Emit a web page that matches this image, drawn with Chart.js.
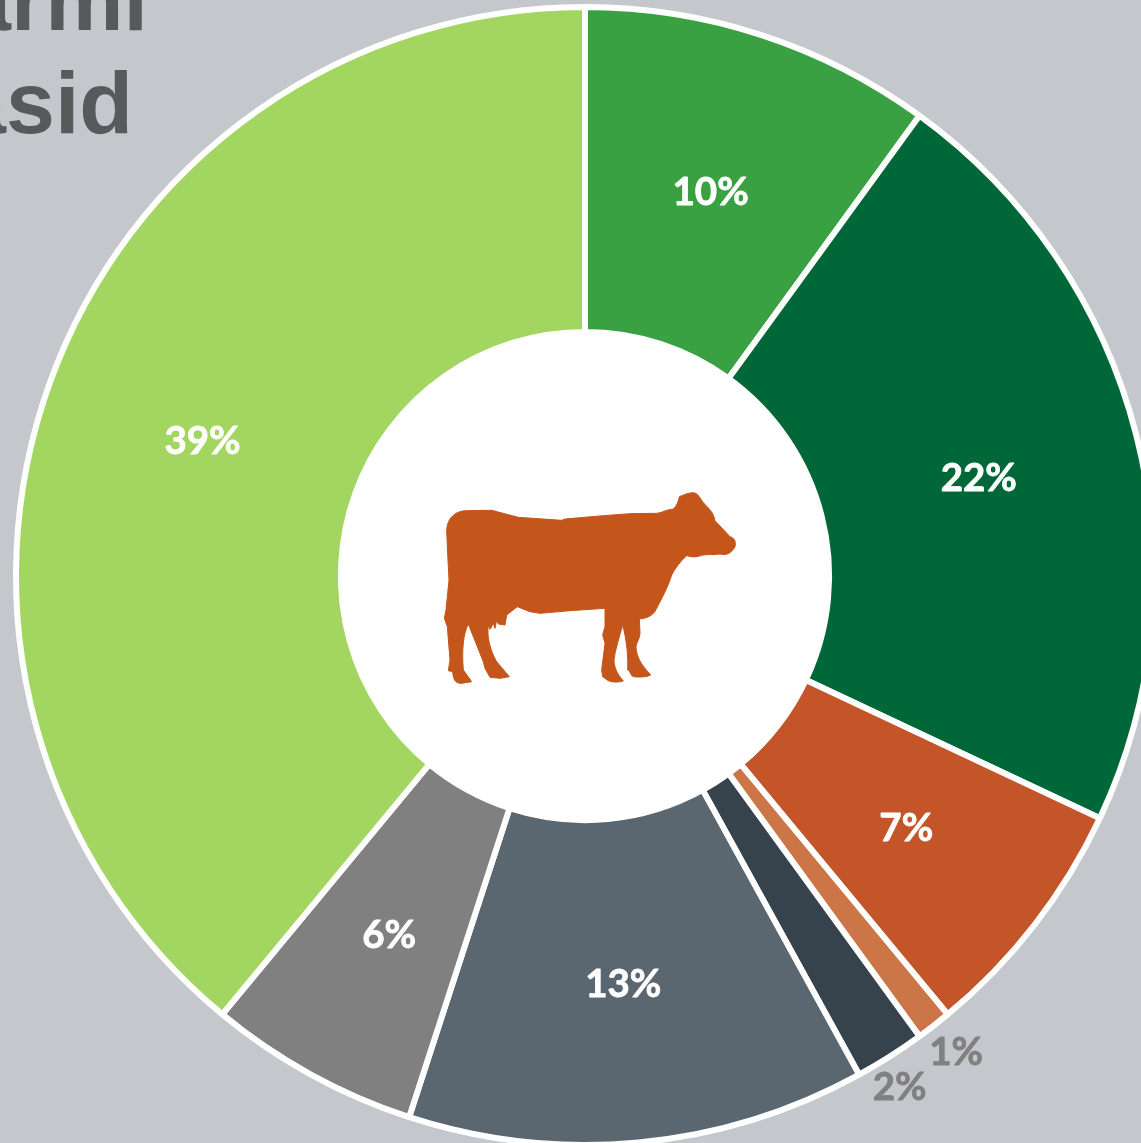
<!DOCTYPE html>
<html>
<head>
<meta charset="utf-8">
<script src="https://cdn.jsdelivr.net/npm/chart.js@4"></script>
<style>
html,body{margin:0;padding:0;width:1141px;height:1143px;overflow:hidden;background:#c4c7cc}
.t{position:absolute;font:bold 88px "Liberation Sans",Arial,sans-serif;color:#58595b;white-space:nowrap;line-height:100px}
#wrap{position:absolute;left:0;top:0;width:1170px;height:1152px}
</style>
</head>
<body>
<div class="t" style="left:-38px;top:-50px">armi</div>
<div class="t" style="left:-43px;top:53px">asid</div>
<div id="wrap"><canvas id="c" width="1170" height="1152" style="display:block"></canvas></div>
<script>
const categories = ["A", "B", "C", "D", "E", "F", "G", "H"];
const values = [10, 22, 7, 1, 2, 13, 6, 39];
const colors = ["#3aa142", "#006838", "#c45528", "#cc7546", "#36434c", "#5a6670", "#808080", "#a3d660"];
const labelColors = ["#fff", "#fff", "#fff", "#808080", "#808080", "#fff", "#fff", "#fff"];
const labelRadiusShift = [0, 0, 0, 195, 191, 0, 0, 0];
const labelAngleShift = [0, 0, 0, -0.0053, 0.011, 0, 0, 0];
const cowPath = "M50,150 C52,110 80,92 110,92 L185,91 L265,112 L395,121 L405,117 L520,107 L600,101 L680,100 C700,97 705,90 730,87 C740,78 745,65 748,50 C760,45 775,38 790,38 C805,40 810,55 820,68 C835,85 850,95 855,122 L900,170 C915,175 918,185 915,200 C905,218 890,228 870,222 C850,225 830,222 815,226 C800,232 785,232 770,227 C750,245 735,265 725,285 C715,320 695,355 680,385 C670,408 650,415 628,417 L630,460 C630,475 620,485 618,500 C620,530 630,550 662,585 C650,592 625,592 610,590 C600,585 600,570 593,570 C595,530 590,480 578,435 C570,465 555,510 552,540 C552,560 560,580 580,603 C565,608 545,607 535,602 L518,590 L515,570 L525,490 L518,465 L525,440 L525,385 L420,392 L330,400 L300,395 L262,380 L230,405 L225,435 L205,432 L200,420 L195,445 L190,430 L180,448 L175,435 C170,470 180,510 200,545 L238,590 L210,595 L180,592 L165,565 L160,545 L115,432 C100,460 95,510 100,570 L125,605 L95,610 C80,610 70,605 68,575 L55,572 L60,540 L52,440 L43,415 L48,390 L57,300 L52,200 Z";

const centerPlugin = {
  id: "centerIcon",
  afterDatasetsDraw(chart) {
    const ctx = chart.ctx;
    const arc = chart.getDatasetMeta(0).data[0];
    const p = arc.getProps(["x", "y", "innerRadius"], true);
    ctx.save();
    ctx.fillStyle = "#fff";
    ctx.beginPath();
    ctx.arc(p.x, p.y, p.innerRadius, 0, Math.PI * 2);
    ctx.fill();
    ctx.translate(p.x - 155, p.y - 96);
    ctx.scale(1 / 3, 1 / 3);
    ctx.fillStyle = "#c4561c";
    ctx.strokeStyle = "#c4561c";
    ctx.lineWidth = 3;
    ctx.lineJoin = "round";
    const path = new Path2D(cowPath);
    ctx.fill(path);
    ctx.stroke(path);
    ctx.restore();
  }
};
const labelPlugin = {
  id: "sliceLabels",
  afterDatasetsDraw(chart) {
    const ctx = chart.ctx;
    ctx.save();
    ctx.font = 'bold 38.5px Lato, "Open Sans", sans-serif';
    ctx.textAlign = "center";
    ctx.textBaseline = "middle";
    ctx.lineWidth = 0.8;
    ctx.lineJoin = "round";
    chart.getDatasetMeta(0).data.forEach((arc, i) => {
      const p = arc.getProps(["x", "y", "startAngle", "endAngle", "innerRadius", "outerRadius"], true);
      const a = (p.startAngle + p.endAngle) / 2 + labelAngleShift[i];
      const r = (p.innerRadius + p.outerRadius) / 2 + labelRadiusShift[i];
      const x = p.x + Math.cos(a) * r;
      const y = p.y + Math.sin(a) * r + 3.5;
      ctx.fillStyle = labelColors[i];
      ctx.strokeStyle = labelColors[i];
      ctx.fillText(values[i] + "%", x, y);
      ctx.strokeText(values[i] + "%", x, y);
    });
    ctx.restore();
  }
};
new Chart(document.getElementById("c"), {
  type: "doughnut",
  data: {
    labels: categories,
    datasets: [{ data: values, backgroundColor: colors, borderColor: "#fff", borderWidth: 6 }]
  },
  options: {
    responsive: false,
    animation: false,
    radius: 569,
    cutout: "42.9%",
    layout: { padding: 0 },
    plugins: { legend: { display: false }, tooltip: { enabled: false } }
  },
  plugins: [centerPlugin, labelPlugin]
});
</script>
</body>
</html>
